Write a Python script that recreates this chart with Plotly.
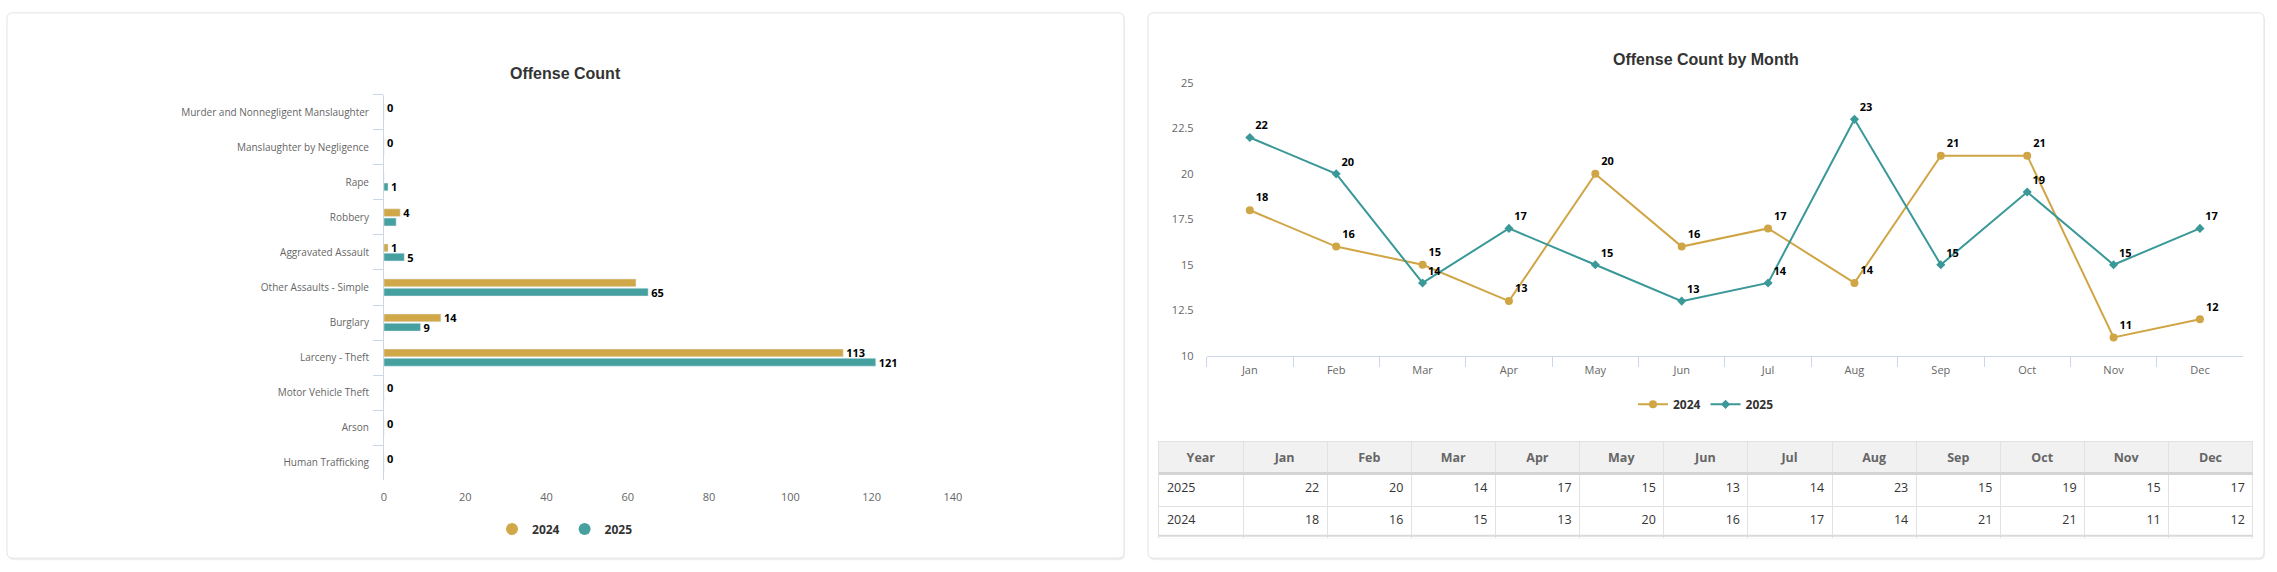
import plotly.graph_objects as go

# chart data
offenses = [
    "Murder and Nonnegligent Manslaughter", "Manslaughter by Negligence", "Rape",
    "Robbery", "Aggravated Assault", "Other Assaults - Simple", "Burglary",
    "Larceny - Theft", "Motor Vehicle Theft", "Arson", "Human Trafficking",
]
count_2024 = [0, 0, 0, 4, 1, 62, 14, 113, 0, 0, 0]
count_2025 = [0, 0, 1, 3, 5, 65, 9, 121, 0, 0, 0]
# which bar labels are visible (overlapping ones are dropped in the original)
label_on_2024 = [True, True, False, True, True, False, True, True, True, True, True]
label_on_2025 = [False, False, True, False, True, True, True, True, False, False, False]
count_ticks = [0, 20, 40, 60, 80, 100, 120, 140]

months = ["Jan", "Feb", "Mar", "Apr", "May", "Jun", "Jul", "Aug", "Sep", "Oct", "Nov", "Dec"]
month_2024 = [18, 16, 15, 13, 20, 16, 17, 14, 21, 21, 11, 12]
month_2025 = [22, 20, 14, 17, 15, 13, 14, 23, 15, 19, 15, 17]

W, H = 2277, 572
GOLD = "#D1A848"
TEAL = "#45A09F"
GOLD_LINE = "#D0A545"
TEAL_LINE = "#3A9898"
FONT = "Open Sans"


def fx(px):
    return px / W


def fy(py):
    return 1 - py / H


def card_path(x0, y0, x1, y1, r=6):
    rx, ry = r / W, r / H
    a, b, c, d = fx(x0), fx(x1), fy(y0), fy(y1)
    return (f"M {a + rx},{c} L {b - rx},{c} Q {b},{c} {b},{c - ry} "
            f"L {b},{d + ry} Q {b},{d} {b - rx},{d} L {a + rx},{d} "
            f"Q {a},{d} {a},{d + ry} L {a},{c - ry} Q {a},{c} {a + rx},{c} Z")


fig = go.Figure()

# bar chart
lbl_font = dict(family=FONT, size=11, color="#000000", weight="bold")
fig.add_trace(go.Bar(
    y=offenses, x=count_2024, orientation="h", name="2024", marker_color=GOLD,
    text=[str(v) if s else "" for v, s in zip(count_2024, label_on_2024)],
    textposition="outside", outsidetextfont=lbl_font, textangle=0, cliponaxis=False,
    constraintext="none", showlegend=False, hoverinfo="x+name",
))
fig.add_trace(go.Bar(
    y=offenses, x=count_2025, orientation="h", name="2025", marker_color=TEAL,
    text=[str(v) if s else "" for v, s in zip(count_2025, label_on_2025)],
    textposition="outside", outsidetextfont=lbl_font, textangle=0, cliponaxis=False,
    constraintext="none", showlegend=False, hoverinfo="x+name",
))
# legend entries with round symbols
for name, col in [("2024", GOLD), ("2025", TEAL)]:
    fig.add_trace(go.Scatter(x=[None], y=[None], mode="markers", name=name,
                             marker=dict(color=col, size=12, symbol="circle"),
                             legend="legend"))

# line chart
pt_font = dict(family=FONT, size=11, color="#000000", weight="bold")
fig.add_trace(go.Scatter(
    x=months, y=month_2024, name="2024", mode="lines+markers+text",
    line=dict(color=GOLD_LINE, width=2), marker=dict(symbol="circle", size=8, color=GOLD_LINE),
    text=[str(v) for v in month_2024], textposition="top right", textfont=pt_font,
    xaxis="x2", yaxis="y2", legend="legend2", cliponaxis=False,
))
fig.add_trace(go.Scatter(
    x=months, y=month_2025, name="2025", mode="lines+markers+text",
    line=dict(color=TEAL_LINE, width=2), marker=dict(symbol="diamond", size=7, color=TEAL_LINE),
    text=[str(v) for v in month_2025], textposition="top right", textfont=pt_font,
    xaxis="x2", yaxis="y2", legend="legend2", cliponaxis=False,
))

# data table under the line chart
fig.add_trace(go.Table(
    domain=dict(x=[fx(1162), fx(2262)], y=[fy(545), fy(445)]),
    columnwidth=[1] * 13,
    header=dict(
        values=["<b>Year</b>"] + [f"<b>{m}</b>" for m in months],
        fill_color="#f1f1f1", align="center", height=33,
        line=dict(color="#e2e2e2", width=1),
        font=dict(family=FONT, size=12.5, color="#666666"),
    ),
    cells=dict(
        values=[["2025", "2024"]] + [[a, b] for a, b in zip(month_2025, month_2024)],
        fill_color="white", align=["left"] + ["right"] * 12, height=32,
        line=dict(color="#e2e2e2", width=1),
        font=dict(family=FONT, size=12.5, color="#333333"),
    ),
))

shapes = []
for x0, y0, x1, y1 in [(4, 5, 1127, 565), (1151, 5, 2273, 565)]:
    shapes.append(dict(type="path", path=card_path(x0 + 1, y0 + 2, x1 + 1, y1 + 2),
                       xref="paper", yref="paper", fillcolor="rgba(0,0,0,0.06)",
                       line=dict(width=0), layer="below"))
    shapes.append(dict(type="path", path=card_path(x0, y0, x1, y1),
                       xref="paper", yref="paper", fillcolor="white",
                       line=dict(color="#e3e3e3", width=1), layer="below"))
shapes.append(dict(type="line", xref="paper", yref="paper", x0=fx(1162), x1=fx(2262),
                   y0=fy(478), y1=fy(478), line=dict(color="#d4d4d4", width=3), layer="above"))
shapes.append(dict(type="line", xref="paper", yref="paper", x0=fx(1162), x1=fx(2262),
                   y0=fy(542), y1=fy(542), line=dict(color="#d9d9d9", width=2), layer="above"))

axis_font = dict(family=FONT, size=11, color="#666666")
title_font = dict(family="Liberation Sans", size=16, color="#333333", weight="bold")
fig.update_layout(
    width=W, height=H, autosize=False,
    margin=dict(l=0, r=0, t=0, b=0),
    paper_bgcolor="white", plot_bgcolor="rgba(0,0,0,0)",
    font=dict(family=FONT, color="#333333"),
    barmode="group", bargap=0.47, bargroupgap=0.16,
    shapes=shapes,
    xaxis=dict(domain=[fx(383), fx(955)], range=[0, 140], tickvals=count_ticks,
               showgrid=False, zeroline=False, showline=False, ticks="",
               ticklabelstandoff=9, tickfont=axis_font, anchor="y", fixedrange=True),
    yaxis=dict(domain=[fy(485), fy(89)], autorange="reversed", type="category",
               showgrid=False, showline=True, linecolor="#ccd6eb", linewidth=1,
               ticks="outside", tickson="boundaries", ticklen=10, tickcolor="#ccd6eb",
               ticklabelstandoff=12,
               tickfont=dict(family=FONT, size=10, color="#666666"), anchor="x",
               fixedrange=True),
    xaxis2=dict(domain=[fx(1210), fx(2252)], type="category", range=[-0.5, 11.5],
                showgrid=False, zeroline=False, showline=True, linecolor="#ccd6eb",
                ticks="outside", tickson="boundaries", ticklen=10, tickcolor="#ccd6eb",
                ticklabelstandoff=4, tickfont=axis_font, anchor="y2", fixedrange=True),
    yaxis2=dict(domain=[fy(357), fy(77)], range=[10, 25], dtick=2.5,
                showgrid=False, zeroline=False, showline=False, ticks="",
                ticklabelstandoff=12, tickfont=axis_font, anchor="x2", fixedrange=True),
    legend=dict(orientation="h", x=fx(565), xanchor="center", y=fy(535), yanchor="middle",
                font=dict(family=FONT, size=12, color="#333333", weight="bold"),
                bgcolor="rgba(0,0,0,0)"),
    legend2=dict(orientation="h", x=fx(1712), xanchor="center", y=fy(407), yanchor="middle",
                 font=dict(family=FONT, size=12, color="#333333", weight="bold"),
                 bgcolor="rgba(0,0,0,0)"),
    annotations=[
        dict(text="Offense Count", x=fx(565), y=fy(67), xref="paper", yref="paper",
             xanchor="center", yanchor="middle", showarrow=False, font=title_font),
        dict(text="Offense Count by Month", x=fx(1712), y=fy(53), xref="paper", yref="paper",
             xanchor="center", yanchor="middle", showarrow=False, font=title_font),
    ],
)

# strip the default page margin and scrollbars so the figure fills the window exactly
page_css = ("document.documentElement.style.margin='0px';"
            "document.documentElement.style.overflow='hidden';"
            "document.body.style.margin='0px';"
            "document.body.style.overflow='hidden';")
fig.write_html("out.html", config={"displayModeBar": False}, post_script=page_css)
